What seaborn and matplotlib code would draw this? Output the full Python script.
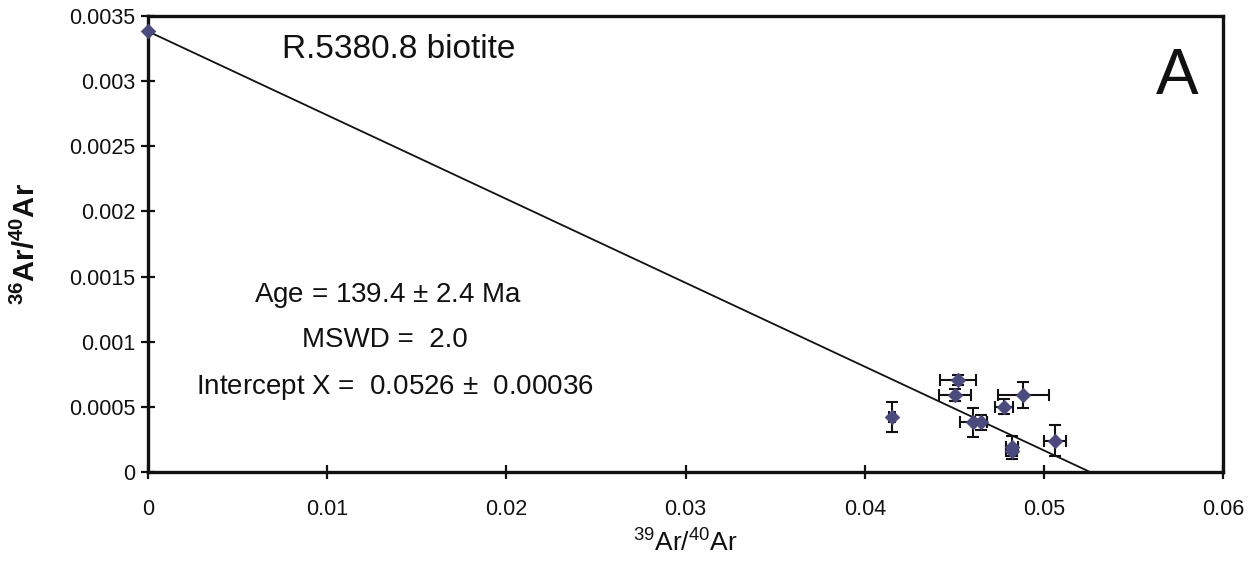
import matplotlib
matplotlib.use("Agg")
import matplotlib.pyplot as plt
import seaborn as sns
import pandas as pd
import numpy as np

# ---- data ----
x_vals = [0.0, 0.04150, 0.04522, 0.04503, 0.04885, 0.04777, 0.04606, 0.04647, 0.04820, 0.04820, 0.05061]
y_vals = [0.00338, 0.000422, 0.000707, 0.000593, 0.000593, 0.000503, 0.000383, 0.000383, 0.000192, 0.000165, 0.000243]
x_err = [0.0, 0.00018, 0.00100, 0.00090, 0.00142, 0.00050, 0.00074, 0.00033, 0.00033, 0.00030, 0.00060]
y_err = [0.0, 0.000115, 0.000040, 0.000045, 0.000100, 0.000056, 0.000110, 0.000060, 0.000090, 0.000040, 0.000118]

line_x = [0.0, 0.0526]
line_y = [0.00338, 0.0]

x_ticks = [0, 0.01, 0.02, 0.03, 0.04, 0.05, 0.06]
x_tick_labels = ["0", "0.01", "0.02", "0.03", "0.04", "0.05", "0.06"]
y_ticks = [0, 0.0005, 0.001, 0.0015, 0.002, 0.0025, 0.003, 0.0035]
y_tick_labels = ["0", "0.0005", "0.001", "0.0015", "0.002", "0.0025", "0.003", "0.0035"]

title_text = "R.5380.8 biotite"
panel_letter = "A"
stats_lines = ["Age = 139.4 $\\pm$ 2.4 Ma", "MSWD =  2.0", "Intercept X =  0.0526 $\\pm$  0.00036"]

# ---- plot ----
sns.set_theme(style="white")
plt.rcParams['font.family'] = ['Liberation Sans', 'DejaVu Sans']
plt.rcParams['mathtext.fontset'] = 'custom'
plt.rcParams['mathtext.rm'] = 'Liberation Sans'
plt.rcParams['mathtext.bf'] = 'Liberation Sans:bold'

fig = plt.figure(figsize=(12.58, 5.63), dpi=100)
ax = fig.add_axes([148/1258, 1-472.3/563, (1223.3-148)/1258, (472.3-15.7)/563])

df = pd.DataFrame({"x": x_vals, "y": y_vals})
line_df = pd.DataFrame({"x": line_x, "y": line_y})

sns.lineplot(data=line_df, x="x", y="y", ax=ax, color="#111111", linewidth=1.3, zorder=2)
ax.errorbar(x_vals, y_vals, xerr=x_err, yerr=y_err, fmt="none", ecolor="#111111",
            elinewidth=1.5, capsize=4.5, capthick=1.5, zorder=3)
sns.scatterplot(data=df, x="x", y="y", ax=ax, marker="D", s=55, color="#4b4a7c",
                edgecolor="#4b4a7c", linewidth=0.5, zorder=4, clip_on=False)

ax.set_xlim(0, 0.06)
ax.set_ylim(0, 0.0035)
ax.set_xticks(x_ticks)
ax.set_xticklabels(x_tick_labels, fontsize=15.5)
ax.set_yticks(y_ticks)
ax.set_yticklabels(y_tick_labels, fontsize=15.5)
ax.tick_params(axis="both", direction="inout", length=10, width=1.6, color="#111111",
               labelcolor="#111111", bottom=True, left=True)
ax.tick_params(axis="x", pad=14)
ax.tick_params(axis="y", pad=4)

for sp in ax.spines.values():
    sp.set_linewidth(2.4)
    sp.set_color("#111111")

ax.set_xlabel("$^{39}$Ar/$^{40}$Ar", fontsize=19, color="#111111", labelpad=6)
ax.set_ylabel("$\\mathbf{^{36}}$Ar/$\\mathbf{^{40}}$Ar", fontsize=21, fontweight="bold",
              color="#111111", labelpad=20)

fig.text(281.7/1258, 1-50/563, title_text, fontsize=24, ha="left", va="center", color="#111111")
fig.text(1177/1258, 1-77/563, panel_letter, fontsize=46, ha="center", va="center", color="#111111")
fig.text(388/1258, 1-295/563, stats_lines[0], fontsize=20, ha="center", va="center", color="#111111")
fig.text(385/1258, 1-340/563, stats_lines[1], fontsize=20, ha="center", va="center", color="#111111")
fig.text(395/1258, 1-388/563, stats_lines[2], fontsize=20, ha="center", va="center", color="#111111")

fig.savefig("out.png", dpi=100)
